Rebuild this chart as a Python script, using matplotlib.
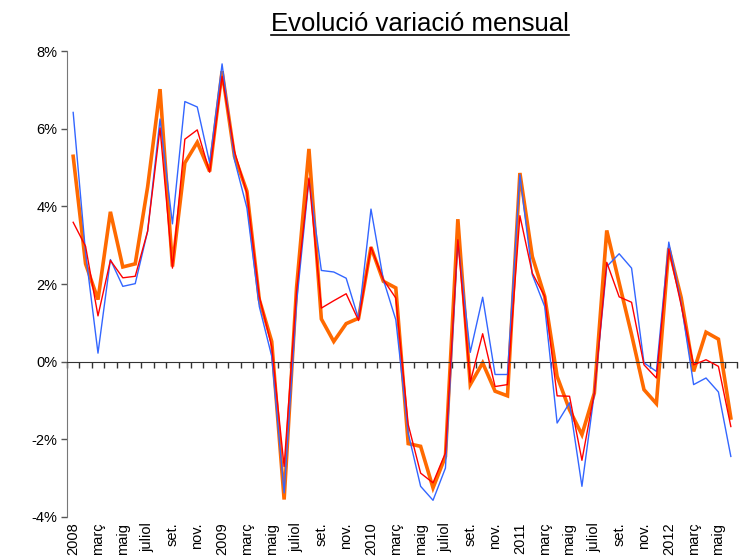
import matplotlib
matplotlib.use("Agg")
import matplotlib.pyplot as plt
from matplotlib.lines import Line2D
from matplotlib.ticker import FuncFormatter

plt.rcParams["font.family"] = ["Liberation Sans", "DejaVu Sans"]

# monthly data, Jan 2008 .. Jun 2012
blue = [6.42, 2.8, 0.22, 2.63, 1.94, 2.01, 3.36, 6.25, 3.55, 6.70, 6.56, 5.12,
        7.67, 5.20, 3.96, 1.42, 0.14, -3.38, 1.5, 4.69, 2.35, 2.31, 2.15, 1.10,
        3.93, 2.11, 1.08, -1.84, -3.21, -3.57, -2.74, 3.10, 0.24, 1.66, -0.33, -0.33,
        4.82, 2.24, 1.42, -1.58, -1.06, -3.21, -0.81, 2.45, 2.78, 2.41, -0.03, -0.25,
        3.08, 1.50, -0.59, -0.42, -0.78, -2.44]
red = [3.59, 2.97, 1.18, 2.61, 2.16, 2.20, 3.36, 6.02, 2.41, 5.73, 5.97, 4.88,
       7.35, 5.42, 4.34, 1.68, 0.39, -2.70, 1.8, 4.73, 1.38, 1.57, 1.75, 1.06,
       2.95, 2.11, 1.64, -1.62, -2.87, -3.12, -2.35, 3.14, -0.53, 0.72, -0.64, -0.59,
       3.76, 2.28, 1.68, -0.88, -0.89, -2.54, -0.81, 2.56, 1.67, 1.53, -0.08, -0.42,
       2.90, 1.45, -0.08, 0.05, -0.12, -1.67]
orange = [5.29, 2.52, 1.60, 3.86, 2.44, 2.52, 4.50, 7.02, 2.45, 5.12, 5.65, 4.90,
          7.48, 5.29, 4.39, 1.60, 0.52, -3.55, 1.9, 5.48, 1.10, 0.52, 0.98, 1.12,
          2.95, 2.07, 1.90, -2.11, -2.18, -3.25, -2.44, 3.67, -0.59, -0.03, -0.76, -0.88,
          4.86, 2.71, 1.68, -0.38, -1.24, -1.88, -0.81, 3.38, 2.03, 0.70, -0.72, -1.08,
          2.93, 1.65, -0.25, 0.76, 0.58, -1.45]

month_labels = ["2008", "", "març", "", "maig", "", "juliol", "", "set.", "", "nov.", "",
                "2009", "", "març", "", "maig", "", "juliol", "", "set.", "", "nov.", "",
                "2010", "", "març", "", "maig", "", "juliol", "", "set.", "", "nov.", "",
                "2011", "", "març", "", "maig", "", "juliol", "", "set.", "", "nov.", "",
                "2012", "", "març", "", "maig", ""]

yticks = [-4, -2, 0, 2, 4, 6, 8]

fig = plt.figure(figsize=(7.4, 5.6), dpi=100)
ax = fig.add_axes([0.0905, 0.0768, 0.9055, 0.832])

x = list(range(len(blue)))
ax.plot(x, orange, color="#ff6a00", lw=2.6, zorder=2, solid_joinstyle="miter")
ax.plot(x, blue, color="#3366ff", lw=1.0, zorder=3)
ax.plot(x, red, color="#ff0000", lw=1.0, zorder=4)

ax.set_xlim(-0.5, len(x) - 0.5)
ax.set_ylim(-4, 8)
ax.set_yticks(yticks)
ax.yaxis.set_major_formatter(FuncFormatter(lambda v, p: f"{v:.0f}%"))
ax.tick_params(axis="y", direction="out", length=4, width=1, colors="#555555",
               labelcolor="black", labelsize=10.5, pad=3)

for s in ("top", "right"):
    ax.spines[s].set_visible(False)
ax.spines["left"].set_color("#777777")
ax.spines["bottom"].set_position(("data", 0))
ax.spines["bottom"].set_color("#333333")

ax.set_xticks([i - 0.5 for i in range(len(x) + 1)])
ax.set_xticklabels([])
ax.tick_params(axis="x", direction="out", length=4, width=1, colors="#333333")

for i, lab in enumerate(month_labels):
    if lab:
        ax.text(i, -0.012, lab, transform=ax.get_xaxis_transform(), rotation=90,
                ha="center", va="top", fontsize=10.5)

t = fig.text(0.567, 0.9446, "Evolució variació mensual", ha="center", va="baseline",
             fontsize=18.5)
fig.canvas.draw()
bb = t.get_window_extent().transformed(fig.transFigure.inverted())
fig.add_artist(Line2D([bb.x0, bb.x1], [0.9375, 0.9375], color="black", lw=1.2,
                      transform=fig.transFigure))

fig.savefig("out.png", dpi=100, facecolor="white")
